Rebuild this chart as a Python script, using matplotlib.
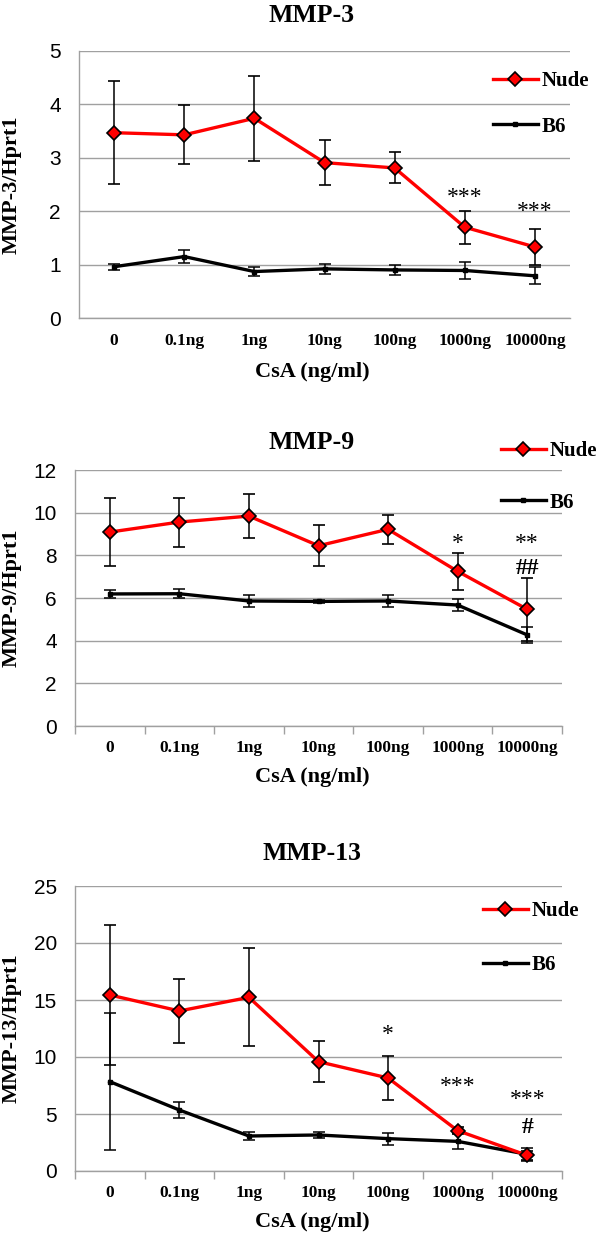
import numpy as np
import matplotlib
matplotlib.use("Agg")
import matplotlib.pyplot as plt
from matplotlib.lines import Line2D

# --- data ---
doses = ["0", "0.1ng", "1ng", "10ng", "100ng", "1000ng", "10000ng"]

mmp3_nude = [3.47, 3.43, 3.74, 2.91, 2.81, 1.70, 1.33]
mmp3_nude_err = [0.96, 0.55, 0.80, 0.42, 0.29, 0.31, 0.34]
mmp3_b6 = [0.96, 1.15, 0.87, 0.92, 0.90, 0.89, 0.79]
mmp3_b6_err = [0.06, 0.12, 0.09, 0.10, 0.09, 0.16, 0.16]

mmp9_nude = [9.09, 9.56, 9.84, 8.45, 9.22, 7.25, 5.47]
mmp9_nude_err = [1.60, 1.15, 1.05, 0.97, 0.67, 0.86, 1.47]
mmp9_b6 = [6.19, 6.20, 5.86, 5.84, 5.86, 5.67, 4.27]
mmp9_b6_err = [0.20, 0.20, 0.27, 0.08, 0.27, 0.30, 0.37]

mmp13_nude = [15.44, 14.04, 15.23, 9.59, 8.16, 3.54, 1.37]
mmp13_nude_err = [6.15, 2.78, 4.30, 1.77, 1.90, 0.30, 0.40]
mmp13_b6 = [7.84, 5.35, 3.07, 3.16, 2.84, 2.60, 1.46]
mmp13_b6_err = [6.00, 0.70, 0.35, 0.30, 0.52, 0.70, 0.55]

# significance marks: (dose index, height, text)
mmp3_sig = [(5, 2.37, "***"), (6, 2.10, "***")]
mmp9_sig = [(5, 8.8, "*"), (6, 8.8, "**")]
mmp9_hash = [(6, 7.48, "##")]
mmp13_sig = [(4, 12.5, "*"), (5, 7.9, "***"), (6, 6.75, "***")]
mmp13_hash = [(6, 4.0, "#")]

W, H = 600, 1234
SERIF = "Liberation Serif"
SANS = "Liberation Sans"
GRID = "#a0a0a0"
RED = "#ff0000"

fig = plt.figure(figsize=(W / 100, H / 100), dpi=100)


def rect(l, t, r, b):
    return [l / W, 1 - b / H, (r - l) / W, (b - t) / H]


def panel(box, title, ylab, ymax, ystep, nude, nerr, b6, berr, sig, hashes,
          ticks, title_y, xlab_y, tick_pad, leg_xy, leg_space):
    ax = fig.add_axes(rect(*box))
    x = np.arange(len(doses))
    ax.errorbar(x, b6, yerr=berr, color="black", lw=2.4, marker="s", ms=3.5,
                ecolor="black", elinewidth=1.1, capsize=4, capthick=1.1,
                zorder=3)
    ax.errorbar(x, nude, yerr=nerr, color=RED, lw=2.4, marker="D", ms=7.5,
                mfc=RED, mec="black", mew=1.2,
                ecolor="black", elinewidth=1.1, capsize=4, capthick=1.1,
                zorder=4)
    ax.set_xlim(-0.5, len(doses) - 0.5)
    ax.set_ylim(0, ymax)
    ax.set_yticks(np.arange(0, ymax + 0.01, ystep))
    ax.yaxis.grid(True, color=GRID, lw=1.0)
    ax.set_axisbelow(True)
    for s in ["top", "right"]:
        ax.spines[s].set_visible(False)
    for s in ["left", "bottom"]:
        ax.spines[s].set_color(GRID)
        ax.spines[s].set_linewidth(1.0)
    ax.tick_params(axis="y", length=0, pad=13, labelsize=15)
    for t in ax.get_yticklabels():
        t.set_fontfamily(SANS)
    ax.set_xticks(x)
    ax.set_xticklabels(doses, fontfamily=SERIF, fontweight="bold", fontsize=12.5)
    ax.tick_params(axis="x", which="major", length=0, pad=tick_pad)
    if ticks:
        ax.set_xticks(np.arange(-0.5, len(doses)), minor=True)
        ax.tick_params(axis="x", which="minor", length=6, width=1.0,
                       color=GRID, direction="out")
    for i, v, s in sig:
        ax.annotate(s, (i, v), xytext=(0, -8), textcoords="offset points",
                    ha="center", va="baseline", fontfamily=SERIF, fontsize=17)
    for i, v, s in hashes:
        ax.annotate(s, (i, v), xytext=(0, -5.5), textcoords="offset points",
                    ha="center", va="baseline", fontfamily=SERIF,
                    fontweight="bold", fontsize=17)

    cx = 312
    fig.text(cx / W, 1 - title_y / H, title, ha="center", va="center",
             fontfamily=SERIF, fontweight="bold", fontsize=18.5)
    fig.text(cx / W, 1 - xlab_y / H, "CsA (ng/ml)", ha="center", va="center",
             fontfamily=SERIF, fontweight="bold", fontsize=16)
    yc = (box[1] + box[3]) / 2
    fig.text(12 / W, 1 - yc / H, ylab, ha="center", va="center", rotation=90,
             fontfamily=SERIF, fontweight="bold", fontsize=16)

    handles = [
        Line2D([], [], color=RED, lw=2.4, marker="D", ms=7.5, mfc=RED,
               mec="black", mew=1.2),
        Line2D([], [], color="black", lw=2.4, marker="s", ms=3.5),
    ]
    fig.legend(handles, ["Nude", "B6"], loc="center left",
               bbox_to_anchor=(leg_xy[0] / W, 1 - leg_xy[1] / H),
               frameon=False, borderpad=0, borderaxespad=0,
               handlelength=2.15, handletextpad=0.2,
               labelspacing=leg_space, numpoints=1,
               prop={"family": SERIF, "weight": "bold", "size": 15})
    return ax


panel((79, 51, 570, 318), "MMP-3", "MMP-3/Hprt1", 5, 1,
      mmp3_nude, mmp3_nude_err, mmp3_b6, mmp3_b6_err, mmp3_sig, [],
      False, 15, 372, 11, (493, 104), 1.2)
panel((75, 470, 562, 726), "MMP-9", "MMP-9/Hprt1", 12, 2,
      mmp9_nude, mmp9_nude_err, mmp9_b6, mmp9_b6_err, mmp9_sig, mmp9_hash,
      True, 442, 777, 10, (501, 477), 1.5)
panel((75, 886, 562, 1171), "MMP-13", "MMP-13/Hprt1", 25, 5,
      mmp13_nude, mmp13_nude_err, mmp13_b6, mmp13_b6_err, mmp13_sig, mmp13_hash,
      True, 853, 1222, 10, (483, 938), 1.65)

fig.savefig("out.png", dpi=100)
